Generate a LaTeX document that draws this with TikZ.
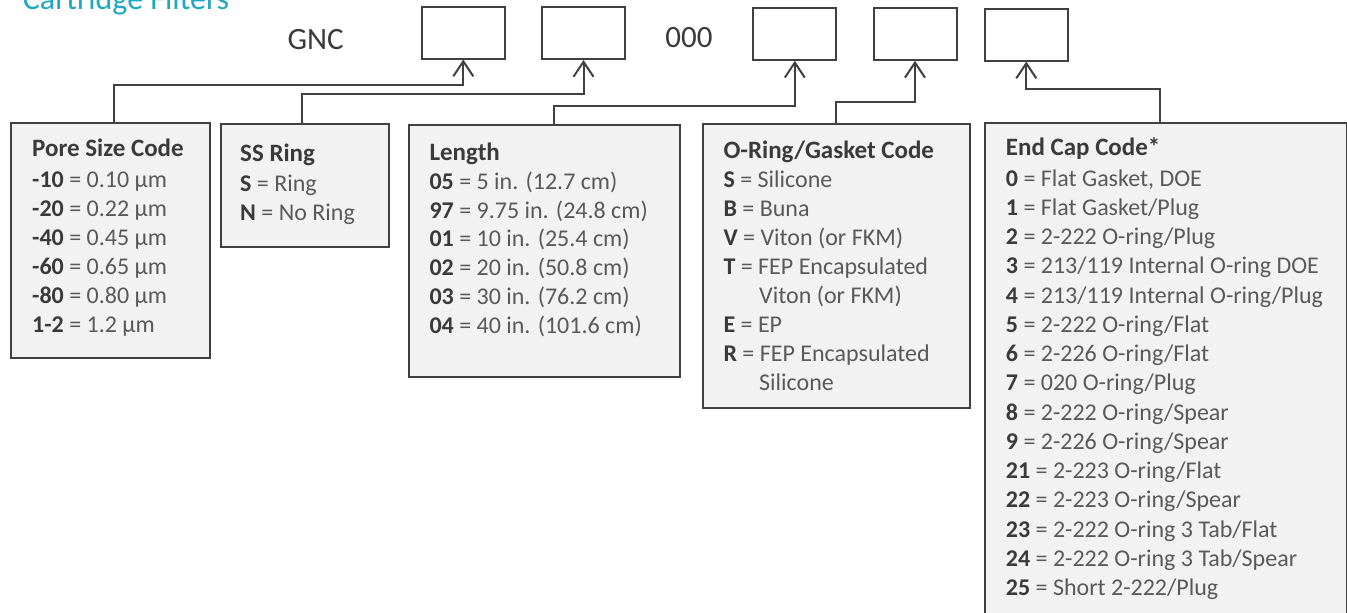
\documentclass[tikz,border=0pt]{standalone}
\usepackage{fontspec}
\setmainfont{Carlito}
\usetikzlibrary{arrows.meta}
\definecolor{linegray}{HTML}{404040}
\definecolor{keygray}{HTML}{3A3A3A}
\definecolor{valgray}{HTML}{595959}
\definecolor{panelfill}{HTML}{F2F2F2}
\definecolor{teal}{HTML}{1FA8C0}
\newcommand\kv[2]{{\color{keygray}\bfseries #1} = #2}
\tikzset{
  codebox/.style={draw=linegray, line width=2pt, fill=white, minimum width=83pt, minimum height=52pt, inner sep=0pt},
  panel/.style={draw=linegray, line width=2pt, fill=panelfill, anchor=north west, inner sep=0pt},
  txt/.style={anchor=base west, inner sep=0pt, text=valgray, font=\fontsize{24}{29}\selectfont},
  hdr/.style={anchor=base west, inner sep=0pt, text=keygray, font=\fontsize{25}{29}\selectfont\bfseries},
  big/.style={anchor=base, inner sep=0pt, text=keygray, font=\fontsize{31}{36}\selectfont},
  conn/.style={draw=linegray, line width=2pt, -{Straight Barb[length=15pt,width=20pt]}},
}
\begin{document}
\begin{tikzpicture}[x=1pt,y=-1pt]
\clip (0,0) rectangle (1347,613);
\fill[white] (0,0) rectangle (1347,613);

% title (cut off at top, as in the reference)
\node[anchor=base west, inner sep=0pt, text=teal, font=\fontsize{32}{38}\selectfont] (title) at (22.7,9.5) {Cartridge Filters};

% code line
\node[big] (gnc) at (315.7,49) {GNC};
\node[codebox] (c1) at (463.3,32.5) {};
\node[codebox] (c2) at (583.5,33) {};
\node[big] (zeros) at (689,47) {000};
\node[codebox] (c3) at (794.8,33.8) {};
\node[codebox] (c4) at (915,33.8) {};
\node[codebox] (c5) at (1026.3,34.5) {};

% panels
\node[panel, minimum width=199pt, minimum height=235pt] (pore) at (10,122.3) {};
\node[panel, minimum width=167.7pt, minimum height=122.4pt] (ss) at (220,123.3) {};
\node[panel, minimum width=271pt, minimum height=251.4pt] (len) at (408.3,124.3) {};
\node[panel, minimum width=266.4pt, minimum height=283.4pt] (oring) at (702.3,123.3) {};
\node[panel, minimum width=361.5pt, minimum height=530pt] (endcap) at (984,122.3) {};

% connectors
\coordinate (j1) at (114,85);
\coordinate (j2) at (302,94);
\coordinate (j3) at (554,106);
\coordinate (j4) at (836,101.7);
\coordinate (j5) at (1160,89);
\draw[conn] (pore.north -| j1) -- (j1) -| (c1.south);
\draw[conn] (ss.north -| j2) -- (j2) -| (c2.south);
\draw[conn] (len.north -| j3) -- (j3) -| (c3.south);
\draw[conn] (oring.north -| j4) -- (j4) -| (c4.south);
\draw[conn] (endcap.north -| j5) -- (j5) -| (c5.south);

% Pore size
\node[hdr] (p0) at (32,156.7) {Pore Size Code};
\node[txt] (p1) at (32,187.7) {\kv{-10}{0.10 µm}};
\node[txt] (p2) at (32,216.7) {\kv{-20}{0.22 µm}};
\node[txt] (p3) at (32,245.7) {\kv{-40}{0.45 µm}};
\node[txt] (p4) at (32,274.7) {\kv{-60}{0.65 µm}};
\node[txt] (p5) at (32,303.7) {\kv{-80}{0.80 µm}};
\node[txt] (p6) at (32,332.7) {\kv{1-2}{1.2 µm}};

% SS ring
\node[hdr] (s0) at (240,161) {SS Ring};
\node[txt] (s1) at (240,191) {\kv{S}{Ring}};
\node[txt] (s2) at (240,220) {\kv{N}{No Ring}};

% Length
\node[hdr] (l0) at (429.3,160) {Length};
\node[txt] (l1) at (429.3,189.3) {\kv{05}{5 in. (12.7 cm)}};
\node[txt] (l2) at (429.3,218.1) {\kv{97}{9.75 in. (24.8 cm)}};
\node[txt] (l3) at (429.3,246.9) {\kv{01}{10 in. (25.4 cm)}};
\node[txt] (l4) at (429.3,275.7) {\kv{02}{20 in. (50.8 cm)}};
\node[txt] (l5) at (429.3,304.5) {\kv{03}{30 in. (76.2 cm)}};
\node[txt] (l6) at (429.3,333.3) {\kv{04}{40 in. (101.6 cm)}};

% O-ring
\node[hdr] (o0) at (723.3,158.3) {O-Ring/Gasket Code};
\node[txt] (o1) at (723.3,187.7) {\kv{S}{Silicone}};
\node[txt] (o2) at (723.3,216.7) {\kv{B}{Buna}};
\node[txt] (o3) at (723.3,245.7) {\kv{V}{Viton (or FKM)}};
\node[txt] (o4) at (723.3,274.7) {\kv{T}{FEP Encapsulated}};
\node[txt] (o5) at (759,303.7) {Viton (or FKM)};
\node[txt] (o6) at (723.3,332.7) {\kv{E}{EP}};
\node[txt] (o7) at (723.3,361.7) {\kv{R}{FEP Encapsulated}};
\node[txt] (o8) at (759,390.7) {Silicone};

% End cap
\node[hdr] (e0) at (1005.7,155.7) {End Cap Code*};
\node[txt] (e1) at (1005.7,186) {\kv{0}{Flat Gasket, DOE}};
\node[txt] (e2) at (1005.7,215.26) {\kv{1}{Flat Gasket/Plug}};
\node[txt] (e3) at (1005.7,244.52) {\kv{2}{2-222 O-ring/Plug}};
\node[txt] (e4) at (1005.7,273.78) {\kv{3}{213/119 Internal O-ring DOE}};
\node[txt] (e5) at (1005.7,303.04) {\kv{4}{213/119 Internal O-ring/Plug}};
\node[txt] (e6) at (1005.7,332.3) {\kv{5}{2-222 O-ring/Flat}};
\node[txt] (e7) at (1005.7,361.56) {\kv{6}{2-226 O-ring/Flat}};
\node[txt] (e8) at (1005.7,390.82) {\kv{7}{020 O-ring/Plug}};
\node[txt] (e9) at (1005.7,420.08) {\kv{8}{2-222 O-ring/Spear}};
\node[txt] (e10) at (1005.7,449.34) {\kv{9}{2-226 O-ring/Spear}};
\node[txt] (e11) at (1005.7,478.6) {\kv{21}{2-223 O-ring/Flat}};
\node[txt] (e12) at (1005.7,507.86) {\kv{22}{2-223 O-ring/Spear}};
\node[txt] (e13) at (1005.7,537.12) {\kv{23}{2-222 O-ring 3 Tab/Flat}};
\node[txt] (e14) at (1005.7,566.38) {\kv{24}{2-222 O-ring 3 Tab/Spear}};
\node[txt] (e15) at (1005.7,595.64) {\kv{25}{Short 2-222/Plug}};
\end{tikzpicture}
\end{document}
